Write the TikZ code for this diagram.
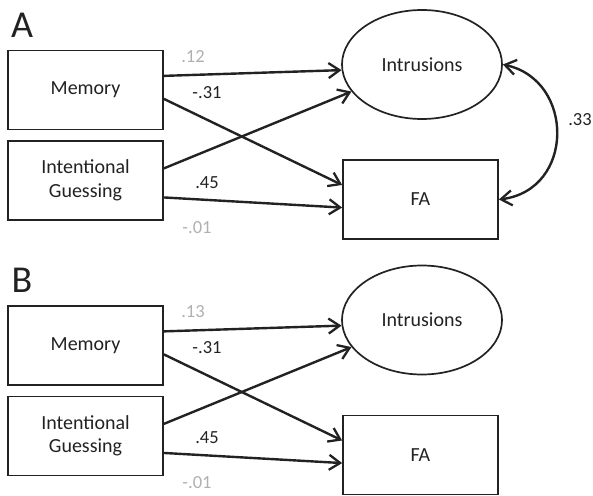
\documentclass[tikz,border=0pt]{standalone}
\usepackage{fontspec}
\setmainfont{Carlito}
\usetikzlibrary{arrows.meta,calc,shapes.geometric}
\definecolor{txt}{HTML}{222222}
\definecolor{lightlbl}{HTML}{B0B0B0}
\begin{document}
\begin{tikzpicture}[x=1pt,y=-1pt,
  box/.style={draw=txt,line width=1.7pt,minimum width=155pt,minimum height=79pt,inner sep=0pt,align=center,font=\fontsize{20}{23.5}\selectfont,text=txt},
  oval/.style={draw=txt,line width=1.7pt,ellipse,minimum width=160pt,minimum height=109pt,inner sep=0pt,font=\fontsize{20}{23.5}\selectfont,text=txt},
  barb/.tip={Straight Barb[length=11pt,width=15pt,line width=2.3pt]},
  semarrow/.style={draw=txt,line width=2.4pt,-barb},
  coef/.style={font=\fontsize{18.5}{21}\selectfont,text=txt,inner sep=0pt},
  weak/.style={coef,text=lightlbl},
  panel/.style={font=\fontsize{38}{42}\selectfont,text=txt,inner sep=0pt}]
\useasboundingbox (0,0) rectangle (593,495);
% ---------- Panel A ----------
\node[panel] (labA) at (22,25) {A};
\node[box] (memA) at (85.5,90) {Memory};
\node[box] (igA) at (85.5,180.5) {Intentional\\Guessing};
\node[oval] (intA) at (422,64.5) {Intrusions};
\node[box] (faA) at (420.5,199.5) {FA};
\draw[semarrow] ($(memA.north east)!0.325!(memA.south east)$) -- (intA.184);
\draw[semarrow] ($(memA.north east)!0.61!(memA.south east)$) -- ($(faA.north west)!0.32!(faA.south west)$);
\draw[semarrow] ($(igA.north east)!0.35!(igA.south east)$) -- (intA.201);
\draw[semarrow] ($(igA.north east)!0.71!(igA.south east)$) -- ($(faA.north west)!0.6!(faA.south west)$);
\draw[draw=txt,line width=2.4pt,barb-barb]
  (intA.east) .. controls (575,80) and (575,190) .. (faA.east);
\node[weak] (c1A) at (193,57) {.12};
\node[coef] (c2A) at (207,93) {-.31};
\node[coef] (c3A) at (207,183) {.45};
\node[weak] (c4A) at (197,228) {-.01};
\node[coef] (c5A) at (580,120) {.33};
% ---------- Panel B ----------
\node[panel] (labB) at (22,280) {B};
\node[box] (memB) at (85.5,345.5) {Memory};
\node[box] (igB) at (85.5,436) {Intentional\\Guessing};
\node[oval] (intB) at (422,320) {Intrusions};
\node[box] (faB) at (420.5,455) {FA};
\draw[semarrow] ($(memB.north east)!0.325!(memB.south east)$) -- (intB.184);
\draw[semarrow] ($(memB.north east)!0.61!(memB.south east)$) -- ($(faB.north west)!0.32!(faB.south west)$);
\draw[semarrow] ($(igB.north east)!0.35!(igB.south east)$) -- (intB.201);
\draw[semarrow] ($(igB.north east)!0.71!(igB.south east)$) -- ($(faB.north west)!0.6!(faB.south west)$);
\node[weak] (c1B) at (193,312) {.13};
\node[coef] (c2B) at (207,348) {-.31};
\node[coef] (c3B) at (207,438) {.45};
\node[weak] (c4B) at (197,483) {-.01};
\end{tikzpicture}
\end{document}
